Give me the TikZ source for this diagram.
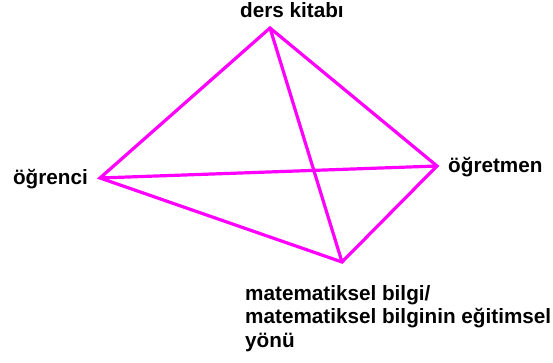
\documentclass[tikz,border=0pt]{standalone}
\usepackage{fontspec}
\setmainfont{Liberation Sans}
\usetikzlibrary{positioning}
\definecolor{mag}{RGB}{255,0,255}

\begin{document}
\begin{tikzpicture}[
    x=1pt, y=-1pt,
    edge/.style={draw=mag, line width=3.2pt, line join=miter},
    lbl/.style={font=\fontsize{20.7}{23.5}\selectfont\bfseries, inner sep=0pt},
]
\useasboundingbox (0,0) rectangle (553,363);
\coordinate (kitap) at (270,28);
\coordinate (ogrenci) at (100,178);
\coordinate (ogretmen) at (437,166);
\coordinate (bilgi) at (342,262);
\draw[edge] (kitap) -- (ogrenci) -- (bilgi) -- (ogretmen) -- cycle;
\draw[edge] (kitap) -- (bilgi);
\draw[edge] (ogrenci) -- (ogretmen);
\node[lbl, anchor=base west] (kitapLbl) at (240,18) {ders kitabı};
\node[lbl, anchor=base east] (ogrenciLbl) at (88,185) {öğrenci};
\node[lbl, anchor=base west] (ogretmenLbl) at (448,173) {öğretmen};
\node[lbl, anchor=north west, align=left] (bilgiLbl) at (245,285)
    {matematiksel bilgi/\\matematiksel bilginin eğitimsel\\yönü};
\end{tikzpicture}
\end{document}
